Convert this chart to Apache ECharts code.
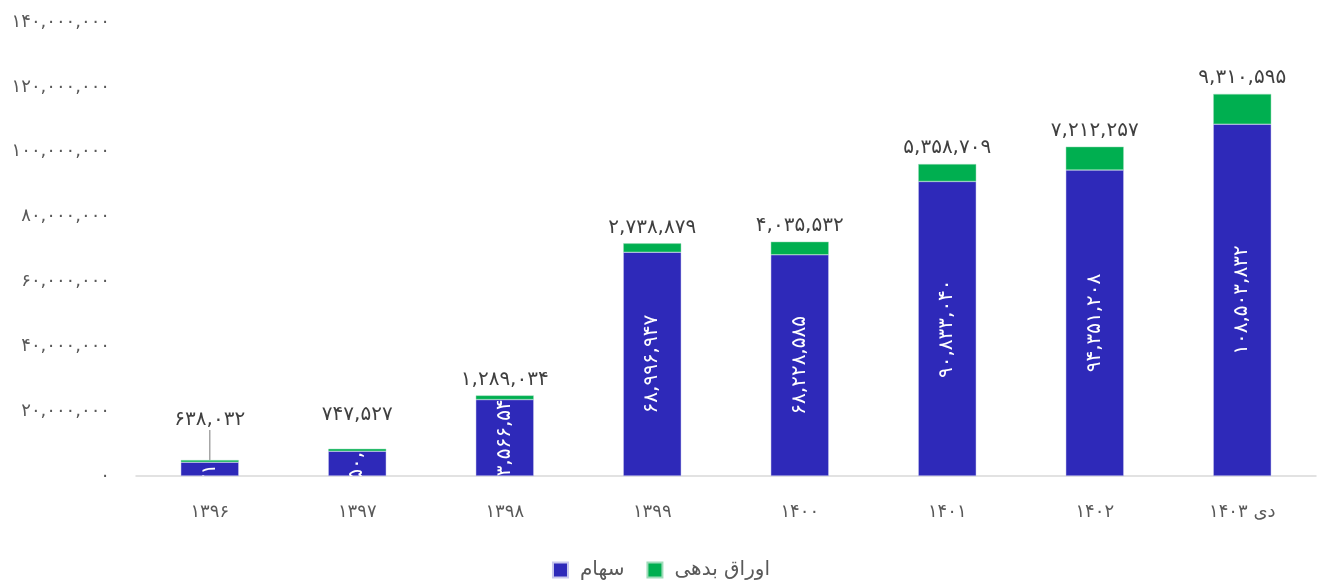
<!DOCTYPE html>
<html>
<head>
<meta charset="utf-8">
<script src="https://cdn.jsdelivr.net/npm/echarts@6/dist/echarts.min.js"></script>
<style>
  html, body { margin: 0; padding: 0; background: #ffffff; }
  #chart { width: 1322px; height: 581px; }
</style>
</head>
<body>
<div id="chart"></div>
<script>
// Years (Solar Hijri)
const categories = ['۱۳۹۶', '۱۳۹۷', '۱۳۹۸', '۱۳۹۹', '۱۴۰۰', '۱۴۰۱', '۱۴۰۲', 'دی ۱۴۰۳'];
// Equities (سهام)
const stocks = [4271650, 7650214, 23566546, 68996947, 68228585, 90833040, 94351208, 108503832];
// Debt securities (اوراق بدهی)
const bonds = [638032, 747527, 1289034, 2738879, 4035532, 5358709, 7212257, 9310595];
// Value axis ticks
const yMax = 140000000;
const yStep = 20000000;

const FONT = "'DejaVu Sans', 'Noto Sans', sans-serif";
const BLUE = '#2E29B9';
const GREEN = '#00AF50';

function toPersian(n) {
  const s = Math.round(n).toLocaleString('en-US');
  return s.replace(/[0-9]/g, d => '۰۱۲۳۴۵۶۷۸۹'[+d]);
}

const chart = echarts.init(document.getElementById('chart'));

chart.setOption({
  backgroundColor: '#ffffff',
  animation: false,
  grid: { left: 136, right: 6, top: 22, bottom: 105, containLabel: false },
  legend: {
    top: 555,
    left: 'center',
    icon: 'rect',
    itemWidth: 15,
    itemHeight: 15,
    itemGap: 22,
    textStyle: { fontFamily: FONT, fontSize: 20, color: '#595959', padding: [0, 0, 0, 7] },
    data: ['سهام', 'اوراق بدهی']
  },
  xAxis: {
    type: 'category',
    data: categories,
    axisTick: { show: false },
    axisLine: { lineStyle: { color: '#d9d9d9', width: 1.5 } },
    axisLabel: { fontFamily: FONT, fontSize: 18, color: '#595959', margin: 27 }
  },
  yAxis: {
    type: 'value',
    min: 0,
    max: yMax,
    interval: yStep,
    splitLine: { show: false },
    axisLine: { show: false },
    axisTick: { show: false },
    axisLabel: {
      fontFamily: FONT, fontSize: 18, color: '#595959', margin: 26,
      formatter: v => toPersian(v)
    }
  },
  series: [
    {
      name: 'سهام',
      type: 'bar',
      stack: 'total',
      barWidth: 58,
      data: stocks,
      itemStyle: { color: BLUE, borderColor: '#c9c8ee', borderWidth: 0.5 }
    },
    {
      name: 'اوراق بدهی',
      type: 'bar',
      stack: 'total',
      barWidth: 58,
      data: bonds.map((v, i) => i === 0
        ? { value: v, labelLine: { show: true } }
        : { value: v, labelLine: { show: false } }),
      itemStyle: { color: GREEN, borderColor: '#9fdcba', borderWidth: 0.5 },
      label: {
        show: true,
        position: 'top',
        distance: 6,
        fontFamily: FONT,
        fontSize: 20,
        color: '#404040',
        formatter: p => toPersian(p.value)
      },
      labelLine: { show: false, lineStyle: { color: '#a6a6a6', width: 1.5 } },
      labelLayout: function (params) {
        if (params.dataIndex === 0) return { dy: -24, dx: 0 };
        if (params.dataIndex === 1) return { dy: -18 };
        return {};
      }
    },
    {
      // white value text inside each equity bar, clipped to the bar
      name: 'stock-labels',
      type: 'custom',
      z: 5,
      silent: true,
      data: stocks.map((v, i) => [i, v]),
      renderItem: function (params, api) {
        const i = api.value(0);
        const v = api.value(1);
        const base = api.coord([i, 0]);
        const top = api.coord([i, v]);
        const w = 58;
        const h = base[1] - top[1];
        const cx = base[0];
        const cy = (base[1] + top[1]) / 2;
        return {
          type: 'group',
          clipPath: {
            type: 'rect',
            shape: { x: cx - w / 2, y: top[1] + 1, width: w, height: h - 1 }
          },
          children: [{
            type: 'text',
            x: cx,
            y: cy,
            rotation: Math.PI / 2,
            style: {
              text: toPersian(v),
              fill: '#ffffff',
              font: '20px ' + FONT,
              align: 'center',
              verticalAlign: 'middle'
            }
          }]
        };
      }
    }
  ]
});
</script>
</body>
</html>
